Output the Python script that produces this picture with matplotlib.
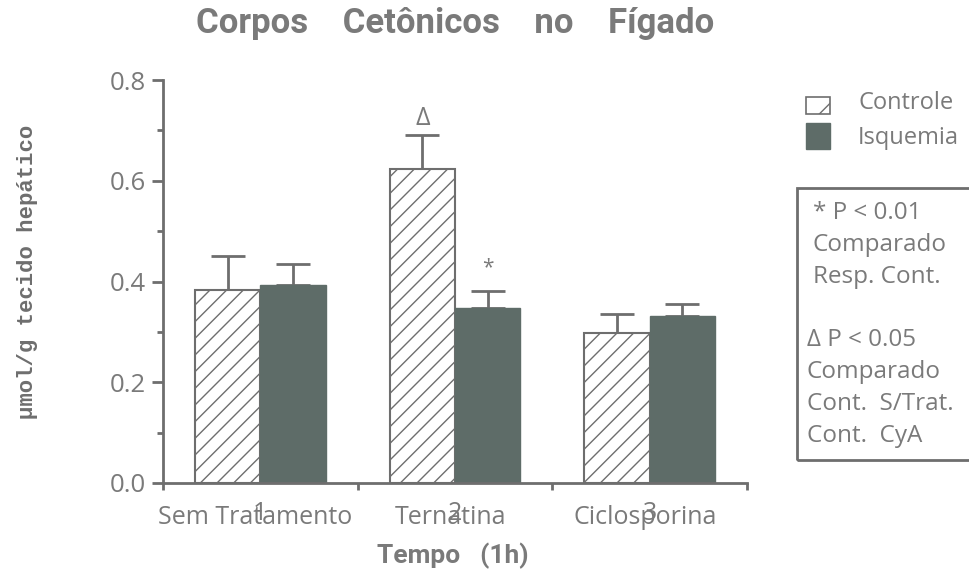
import matplotlib
matplotlib.use("Agg")
import matplotlib.pyplot as plt
from matplotlib.patches import Rectangle
from matplotlib.ticker import MultipleLocator
import numpy as np

# Data
groups = ["Sem Tratamento", "Ternatina", "Ciclosporina"]
group_ticks = ["1", "2", "3"]
controle = [0.383, 0.623, 0.298]
controle_err = [0.067, 0.067, 0.037]
isquemia = [0.393, 0.347, 0.332]
isquemia_err = [0.041, 0.035, 0.024]
series_names = ["Controle", "Isquemia"]
note_lines = ["* P < 0.01", "Comparado", "Resp. Cont.", "",
              "\u0394 P < 0.05", "Comparado", "Cont.  S/Trat.", "Cont.  CyA"]

AX_COL = "#6e6e6e"
TXT_COL = "#7a7a7a"
DARK = "#5e6c68"
LIGHT_FONT = "Open Sans"
BOLD_FONT = ["Liberation Sans Narrow", "Roboto", "DejaVu Sans"]

plt.rcParams["hatch.linewidth"] = 1.0
plt.rcParams["hatch.color"] = AX_COL

fig = plt.figure(figsize=(9.69, 5.69), dpi=100)
ax = fig.add_axes([163 / 969, 1 - 483 / 569, (747 - 163) / 969, (483 - 80) / 569])

x = np.arange(1, len(groups) + 1)
w = 0.335
ax.bar(x - w / 2, controle, w, facecolor="white", edgecolor=AX_COL,
       linewidth=1.5, hatch="//", zorder=2)
ax.bar(x + w / 2, isquemia, w, facecolor=DARK, edgecolor=DARK,
       linewidth=1.0, zorder=2)
for xs, ys, es in [(x - w / 2, controle, controle_err),
                   (x + w / 2, isquemia, isquemia_err)]:
    ax.errorbar(xs, ys, yerr=[np.zeros(len(es)), es], fmt="none",
                ecolor=AX_COL, elinewidth=2, capsize=12, capthick=2, zorder=1)

# significance marks
ax.text(x[1] - w / 2, controle[1] + controle_err[1] + 0.02, "\u0394",
        ha="center", va="baseline", fontsize=18, color=TXT_COL, family=LIGHT_FONT)
ax.text(x[1] + w / 2, isquemia[1] + isquemia_err[1] + 0.025, "*",
        ha="center", va="bottom", fontsize=15, color=TXT_COL, family=LIGHT_FONT)

ax.set_xlim(0.5, 3.5)
ax.set_ylim(0, 0.8)
ax.yaxis.set_major_locator(MultipleLocator(0.2))
ax.yaxis.set_minor_locator(MultipleLocator(0.1))
ax.set_yticklabels([f"{v:.1f}" for v in ax.get_yticks()])
ax.set_xticks(x)
ax.set_xticklabels(group_ticks)
ax.set_xticks([0.5, 1.5, 2.5, 3.5], minor=True)

for s in ["top", "right"]:
    ax.spines[s].set_visible(False)
for s in ["left", "bottom"]:
    ax.spines[s].set_color(AX_COL)
    ax.spines[s].set_linewidth(2)

ax.tick_params(axis="y", which="major", length=8, width=2, color=AX_COL,
               labelsize=18.5, labelcolor=TXT_COL, pad=4)
ax.tick_params(axis="y", which="minor", length=4.5, width=2, color=AX_COL)
ax.tick_params(axis="x", which="major", length=0, labelsize=18,
               labelcolor=TXT_COL, pad=13)
ax.tick_params(axis="x", which="minor", length=5, width=2, color=AX_COL)
for lab in ax.get_xticklabels() + ax.get_yticklabels():
    lab.set_family(LIGHT_FONT)

for xi, g in zip(x, groups):
    ax.text(xi - 0.025, -0.085, g, transform=ax.get_xaxis_transform(),
            ha="center", va="center", fontsize=18, color=TXT_COL, family=LIGHT_FONT)

fig.text(453 / 969, 1 - 563 / 569, "Tempo   (1h)", ha="center", va="baseline",
         fontsize=19, fontweight="bold", color=TXT_COL, family=BOLD_FONT)
fig.text(28 / 969, 1 - 272 / 569, "\u00b5mol/g tecido hep\u00e1tico", rotation=90,
         ha="center", va="center", fontsize=16, fontweight="bold",
         color=AX_COL, family="Liberation Mono")

fig.text(455 / 969, 1 - 33 / 569, "Corpos    Cet\u00f4nicos    no    F\u00edgado",
         ha="center", va="baseline", fontsize=25, fontweight="bold",
         color=TXT_COL, family=BOLD_FONT)

# legend
fig.patches.append(Rectangle((806 / 969, 1 - 114 / 569), 24 / 969, 17 / 569,
                             transform=fig.transFigure, facecolor="white",
                             edgecolor=AX_COL, linewidth=1.2, hatch="/"))
fig.patches.append(Rectangle((806 / 969, 1 - 149 / 569), 24 / 969, 26 / 569,
                             transform=fig.transFigure, facecolor=DARK,
                             edgecolor=DARK, linewidth=1))
fig.text(858 / 969, 1 - 103 / 569, series_names[0], ha="left", va="center",
         fontsize=17, color=TXT_COL, family=LIGHT_FONT)
fig.text(858 / 969, 1 - 138 / 569, series_names[1], ha="left", va="center",
         fontsize=17, color=TXT_COL, family=LIGHT_FONT)

# note box
fig.patches.append(Rectangle((797 / 969, 1 - 460 / 569), 200 / 969, 272 / 569,
                             transform=fig.transFigure, facecolor="none",
                             edgecolor=AX_COL, linewidth=2))
y0 = 213
for i, line in enumerate(note_lines):
    xo = 813 if i < 3 else 807
    fig.text(xo / 969, 1 - (y0 + i * 31.8) / 569, line, ha="left", va="center",
             fontsize=17.5, color=TXT_COL, family=LIGHT_FONT)

fig.savefig("out.png", dpi=100)
